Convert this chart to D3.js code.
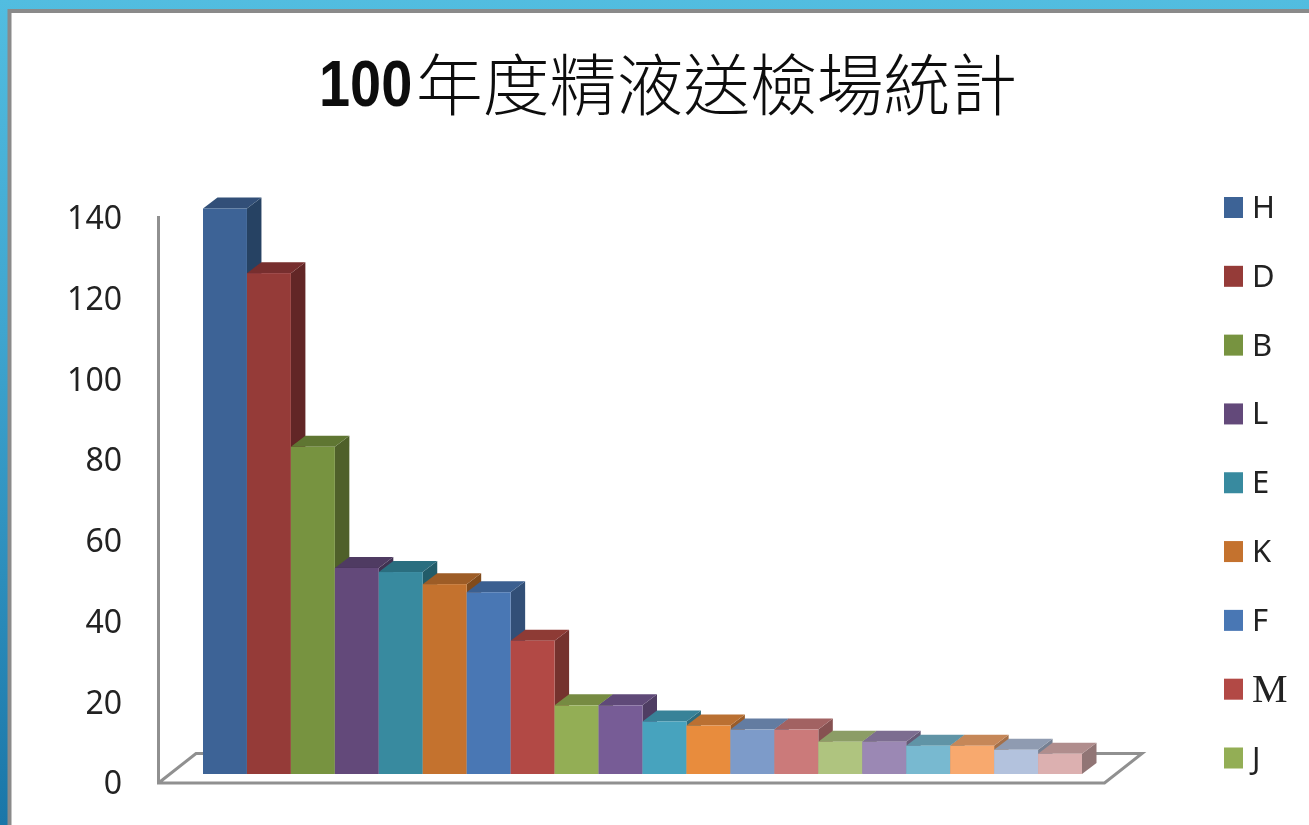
<!DOCTYPE html>
<html><head><meta charset="utf-8">
<script src="https://cdn.jsdelivr.net/npm/d3@7"></script>
<style>html,body{margin:0;padding:0;background:#fff;overflow:hidden}svg{display:block}</style>
</head><body><svg id="c" width="1309" height="825"></svg>
<script>
const titleBold = "100";
const titleRest = "年度精液送檢場統計";
const legendLabels = ["H","D","B","L","E","K","F","M","J"];
const barValues = [140,124,81,51,50,47,45,33,17,17,13,12,11,11,8,8,7,7,6,5];
const barColors = ["#3c6496","#953a38","#77933f","#63497a","#378a9f","#c4722e","#4a77b4","#b24844","#93ae54","#775c96","#46a3be","#e88c3e","#7d9bc9","#cb7a7a","#afc47f","#9b88b4","#78b9d0","#f8a96e","#b3c2dd","#dcb0b0"];
const axisTicks = [0,20,40,60,80,100,120,140];

const svg = d3.select("#c");
const defs = svg.append("defs");
const g = defs.append("linearGradient").attr("id","frame").attr("x1",0).attr("y1",0).attr("x2",0).attr("y2",1);
g.append("stop").attr("offset",0).attr("stop-color","#52bde0");
g.append("stop").attr("offset",0.4).attr("stop-color","#3fa5cf");
g.append("stop").attr("offset",1).attr("stop-color","#1a76a8");
defs.append("filter").attr("id","soft").attr("x","-5%").attr("y","-5%").attr("width","110%").attr("height","110%")
  .append("feGaussianBlur").attr("stdDeviation",0.6);

svg.append("rect").attr("width",1309).attr("height",825).attr("fill","url(#frame)");
const root = svg.append("g").attr("filter","url(#soft)");
root.append("rect").attr("x",9.5).attr("y",11).attr("width",1310).attr("height",830)
  .attr("fill","#fff").attr("stroke","#8a8a8a").attr("stroke-width",4);

// title
root.append("text").attr("transform","translate(319,106) scale(0.86,1)").attr("fill","#111").text(titleBold)
  .attr("font-family","'Liberation Sans',sans-serif").attr("font-weight",700)
  .attr("font-size",65);
root.append("text").attr("x",416).attr("y",110).attr("fill","#111").text(titleRest)
  .attr("font-family","'Noto Sans CJK TC'").attr("font-weight",300).attr("font-size",66.8);

// scales
const x = d3.scaleBand().domain(d3.range(barValues.length)).range([203,1082]).padding(0);
const yBar = d3.scaleLinear().domain([0,140]).range([774,208.5]);
const yAxis = d3.scaleLinear().domain([0,140]).range([783.5,218.5]);
const depthX = 14.5, depthY = -11;

// walls and floor
const grey = "#909090";
root.append("path")
  .attr("d","M158.5,216V783H1104.5L1142,753.5H1095M158.5,783L196,753.5H205")
  .attr("fill","none").attr("stroke",grey).attr("stroke-width",3);

// axis labels
const axis = d3.axisLeft(yAxis).tickValues(axisTicks).tickSize(0).tickPadding(0).tickFormat(d3.format("d"));
const ag = root.append("g").attr("transform","translate(122,0)").call(axis);
ag.select(".domain").remove();
ag.selectAll("text").attr("font-family","'Noto Sans',sans-serif").attr("font-size",32).attr("fill","#222");

// 3D bars
const shade = (c,k)=>{const r=d3.rgb(c);return d3.rgb(r.r*k,r.g*k,r.b*k).formatHex();};
const bars = root.selectAll("g.bar").data(barValues).join("g").attr("class","bar");
bars.append("path").attr("fill",(d,i)=>shade(barColors[i],0.66))
  .attr("d",(d,i)=>{const r=x(i)+x.bandwidth(),t=yBar(d),b=yBar(0);
    return `M${r},${t}L${r+depthX},${t+depthY}V${b+depthY}L${r},${b}Z`;});
bars.append("path").attr("fill",(d,i)=>shade(barColors[i],0.8))
  .attr("d",(d,i)=>{const l=x(i),r=l+x.bandwidth(),t=yBar(d);
    return `M${l},${t}L${l+depthX},${t+depthY}H${r+depthX}L${r},${t}Z`;});
bars.append("rect").attr("x",(d,i)=>x(i)).attr("y",d=>yBar(d))
  .attr("width",x.bandwidth()).attr("height",d=>yBar(0)-yBar(d)).attr("fill",(d,i)=>barColors[i]);

// legend
const ly = d3.scalePoint().domain(legendLabels).range([207.5,758]);
const lg = root.selectAll("g.leg").data(legendLabels).join("g").attr("class","leg")
  .attr("transform",d=>`translate(1224,${ly(d)})`);
lg.append("rect").attr("x",0).attr("y",-10.5).attr("width",19).attr("height",21).attr("fill",(d,i)=>barColors[i]);
lg.append("text").attr("x",28).attr("y",d=>d==="M"?13:10.5).text(d=>d).attr("fill","#222")
  .attr("font-family",d=>d==="M"?"'Liberation Serif',serif":"'Noto Sans',sans-serif")
  .attr("font-size",d=>d==="M"?40:31);
</script></body></html>
